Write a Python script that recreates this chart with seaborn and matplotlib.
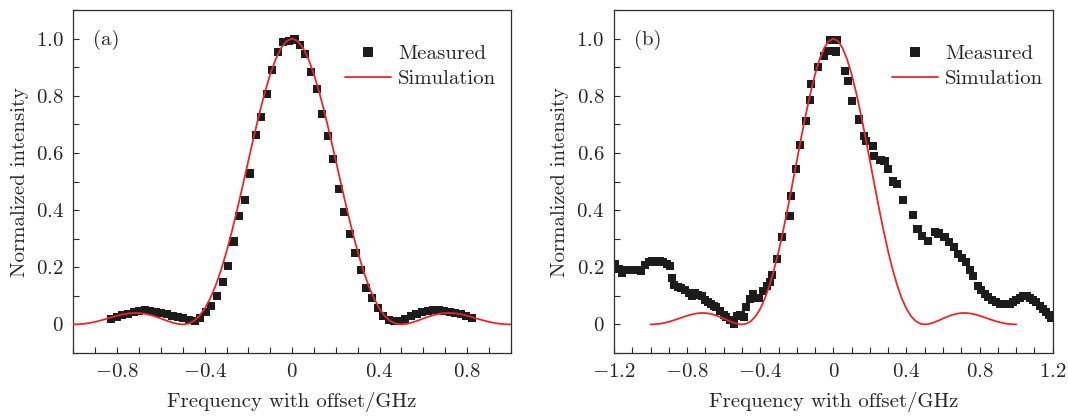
import numpy as np
import pandas as pd
import matplotlib
matplotlib.use("Agg")
import matplotlib.pyplot as plt
import seaborn as sns
from matplotlib.ticker import MultipleLocator
from matplotlib.lines import Line2D

# ---------------- data ----------------
# (a) measured transmission spectrum
a_freq = [-0.827, -0.801, -0.776, -0.751, -0.725, -0.700, -0.674, -0.649, -0.624, -0.598,
          -0.573, -0.547, -0.522, -0.497, -0.471, -0.446, -0.420, -0.395, -0.369, -0.344,
          -0.318, -0.293, -0.268, -0.242, -0.217, -0.192, -0.166, -0.141, -0.116, -0.090,
          -0.065, -0.040, -0.014, 0.011, 0.036, 0.061, 0.087, 0.112, 0.137, 0.163,
          0.188, 0.213, 0.239, 0.264, 0.290, 0.315, 0.340, 0.366, 0.391, 0.416,
          0.442, 0.467, 0.493, 0.518, 0.543, 0.569, 0.594, 0.620, 0.645, 0.670,
          0.696, 0.721, 0.747, 0.772, 0.797, 0.823]
a_meas = [0.020, 0.026, 0.032, 0.037, 0.042, 0.047, 0.050, 0.047, 0.043, 0.040,
          0.036, 0.031, 0.027, 0.021, 0.016, 0.012, 0.022, 0.045, 0.065, 0.100,
          0.150, 0.203, 0.290, 0.378, 0.435, 0.528, 0.662, 0.725, 0.807, 0.889,
          0.953, 0.987, 0.993, 0.997, 0.979, 0.946, 0.882, 0.824, 0.735, 0.659,
          0.580, 0.475, 0.394, 0.316, 0.250, 0.191, 0.127, 0.092, 0.058, 0.030,
          0.016, 0.013, 0.012, 0.020, 0.030, 0.037, 0.043, 0.047, 0.050, 0.052,
          0.048, 0.043, 0.040, 0.036, 0.030, 0.022]

# (b) measured transmission spectrum
b_freq = [-1.195, -1.175, -1.157, -1.135, -1.112, -1.089, -1.068, -1.050, -1.030, -1.010,
          -0.990, -0.970, -0.950, -0.930, -0.912, -0.896, -0.884, -0.870, -0.852, -0.835,
          -0.812, -0.790, -0.772, -0.756, -0.738, -0.720, -0.700, -0.685, -0.670, -0.655,
          -0.640, -0.619, -0.600, -0.585, -0.566, -0.545, -0.527, -0.508, -0.490, -0.478,
          -0.458, -0.440, -0.418, -0.405, -0.385, -0.365, -0.345, -0.335, -0.308, -0.282,
          -0.240, -0.234, -0.204, -0.184, -0.152, -0.128, -0.123, -0.084, -0.052, -0.030,
          -0.016, 0.002, 0.020, 0.016, 0.064, 0.080, 0.103, 0.142, 0.169, 0.180,
          0.215, 0.224, 0.258, 0.280, 0.300, 0.327, 0.349, 0.380, 0.436, 0.460,
          0.484, 0.520, 0.557, 0.575, 0.608, 0.635, 0.659, 0.681, 0.705, 0.727,
          0.746, 0.764, 0.791, 0.810, 0.828, 0.848, 0.868, 0.890, 0.910, 0.928,
          0.946, 0.965, 0.983, 1.000, 1.019, 1.040, 1.061, 1.078, 1.092, 1.110,
          1.129, 1.148, 1.165, 1.180, 1.192]
b_meas = [0.212, 0.195, 0.180, 0.190, 0.192, 0.191, 0.190, 0.188, 0.208, 0.220,
          0.222, 0.217, 0.223, 0.219, 0.212, 0.203, 0.161, 0.137, 0.130, 0.128,
          0.119, 0.110, 0.100, 0.109, 0.104, 0.098, 0.086, 0.078, 0.072, 0.066,
          0.060, 0.047, 0.033, 0.026, 0.016, 0.002, 0.031, 0.032, 0.027, 0.060,
          0.090, 0.106, 0.094, 0.094, 0.117, 0.134, 0.150, 0.172, 0.229, 0.305,
          0.380, 0.450, 0.543, 0.628, 0.712, 0.784, 0.842, 0.900, 0.938, 0.956,
          0.995, 0.995, 0.995, 0.955, 0.888, 0.851, 0.781, 0.717, 0.659, 0.643,
          0.624, 0.589, 0.576, 0.571, 0.543, 0.500, 0.491, 0.436, 0.383, 0.334,
          0.310, 0.293, 0.322, 0.318, 0.305, 0.288, 0.270, 0.247, 0.232, 0.217,
          0.190, 0.168, 0.136, 0.120, 0.107, 0.095, 0.086, 0.078, 0.072, 0.070,
          0.070, 0.073, 0.078, 0.085, 0.093, 0.100, 0.099, 0.094, 0.086, 0.077,
          0.066, 0.054, 0.043, 0.033, 0.023]

# simulated line shape, sampled every 0.025 GHz from -1 to 1
sim_freq = np.round(np.arange(-40, 41) * 0.025, 3)
sim_val = [0.0, 0.0006, 0.0023, 0.0052, 0.0092, 0.0140, 0.0195, 0.0252, 0.0304, 0.0350,
           0.0383, 0.0400, 0.0398, 0.0375, 0.0333, 0.0275, 0.0207, 0.0134, 0.0070, 0.0020,
           0.0, 0.0027, 0.0119, 0.0289, 0.0547, 0.0901, 0.1353, 0.1904, 0.2546, 0.3268,
           0.4053, 0.4881, 0.5728, 0.6566, 0.7368, 0.8106, 0.8751, 0.9281, 0.9675, 0.9918,
           1.0,
           0.9918, 0.9675, 0.9281, 0.8751, 0.8106, 0.7368, 0.6566, 0.5728, 0.4881, 0.4053,
           0.3268, 0.2546, 0.1904, 0.1353, 0.0901, 0.0547, 0.0289, 0.0119, 0.0027, 0.0,
           0.0020, 0.0070, 0.0134, 0.0207, 0.0275, 0.0333, 0.0375, 0.0398, 0.0400, 0.0383,
           0.0350, 0.0304, 0.0252, 0.0195, 0.0140, 0.0092, 0.0052, 0.0023, 0.0006, 0.0]

y_ticks = [0.0, 0.2, 0.4, 0.6, 0.8, 1.0]
y_ticklabels = ["0", "0.2", "0.4", "0.6", "0.8", "1.0"]
a_xticks = [-0.8, -0.4, 0.0, 0.4, 0.8]
a_xticklabels = ["-0.8", "-0.4", "0", "0.4", "0.8"]
b_xticks = [-1.2, -0.8, -0.4, 0.0, 0.4, 0.8, 1.2]
b_xticklabels = ["-1.2", "-0.8", "-0.4", "0", "0.4", "0.8", "1.2"]

x_label = "Frequency with offset/GHz"
y_label = "Normalized intensity"
series_labels = ["Measured", "Simulation"]

# ---------------- style ----------------
sns.set_theme(style="ticks")
plt.rcParams["font.family"] = ["cmr10", "DejaVu Serif"]
plt.rcParams["mathtext.fontset"] = "cm"
plt.rcParams["axes.formatter.use_mathtext"] = True

RED = "#e8262b"
MARK = "#1c1c1c"
SPINE = "#2e2e2e"
FS = 15

fig = plt.figure(figsize=(10.68, 4.16), dpi=100)
ax_a = fig.add_axes([0.0688, 0.1514, 0.4094, 0.8245])
ax_b = fig.add_axes([0.5749, 0.1514, 0.4108, 0.8245])


def draw_panel(ax, freq, meas, xlim, xticks, xticklabels, tag, leg_anchor):
    meas_df = pd.DataFrame({"f": freq, "I": meas})
    sim_df = pd.DataFrame({"f": sim_freq, "I": sim_val})
    sns.scatterplot(data=meas_df, x="f", y="I", ax=ax, marker="s", s=34,
                    color=MARK, edgecolor="none", linewidth=0, zorder=2)
    sns.lineplot(data=sim_df, x="f", y="I", ax=ax, color=RED, linewidth=1.3,
                 sort=False, estimator=None, zorder=3)
    ax.set_xlim(*xlim)
    ax.set_ylim(-0.1, 1.1)
    ax.set_xticks(xticks)
    ax.set_xticklabels([f"${t}$" for t in xticklabels], fontsize=FS)
    ax.set_yticks(y_ticks)
    ax.set_yticklabels([f"${t}$" for t in y_ticklabels], fontsize=FS)
    ax.xaxis.set_minor_locator(MultipleLocator(0.1))
    ax.yaxis.set_minor_locator(MultipleLocator(0.1))
    ax.tick_params(which="both", direction="in", length=4.5, width=0.8,
                   color=SPINE, top=False, right=False)
    ax.tick_params(axis="x", which="major", pad=7)
    ax.tick_params(axis="y", which="major", pad=7)
    for sp in ax.spines.values():
        sp.set_color(SPINE)
        sp.set_linewidth(0.9)
    ax.set_xlabel(x_label, fontsize=FS, labelpad=8)
    ax.set_ylabel(y_label, fontsize=FS, labelpad=5)
    ax.text(0.045, 0.913, tag, transform=ax.transAxes, fontsize=FS,
            ha="left", va="center")
    handles = [Line2D([], [], marker="s", linestyle="none", color=MARK,
                      markersize=6.5, markeredgewidth=0),
               Line2D([], [], color=RED, linewidth=1.3)]
    ax.legend(handles, series_labels, loc="upper right", bbox_to_anchor=leg_anchor,
              frameon=False, fontsize=FS, handlelength=2.2, handletextpad=0.35,
              labelspacing=0.3, borderaxespad=0, borderpad=0)


draw_panel(ax_a, a_freq, a_meas, (-1.0, 1.0), a_xticks, a_xticklabels, "(a)",
           (0.967, 0.899))
draw_panel(ax_b, b_freq, b_meas, (-1.2, 1.2), b_xticks, b_xticklabels, "(b)",
           (0.978, 0.899))

fig.savefig("out.png", dpi=100)
